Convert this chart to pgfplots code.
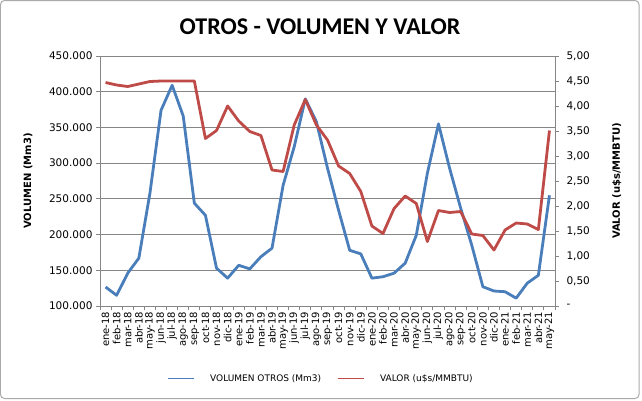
\documentclass[border=0pt]{standalone}
\usepackage{fontspec}
\setmainfont{DejaVu Sans}
\newfontfamily\carlito{Carlito}
\usepackage{pgfplots}
\pgfplotsset{compat=1.18}
\usepackage{pgfplotstable}
\definecolor{volblue}{HTML}{4A7EBB}
\definecolor{valred}{HTML}{BE4B48}
\definecolor{gridgray}{HTML}{868686}
\pgfplotstableread{
i vol val
0 126600 4.47
1 115000 4.42
2 146000 4.39
3 167000 4.44
4 258000 4.49
5 374000 4.50
6 409000 4.50
7 366000 4.50
8 244000 4.50
9 227000 3.35
10 153000 3.51
11 139000 4.00
12 157000 3.70
13 152000 3.49
14 169000 3.41
15 181000 2.72
16 269000 2.69
17 323000 3.62
18 390000 4.13
19 358000 3.62
20 293000 3.32
21 234000 2.80
22 178000 2.65
23 173000 2.29
24 139000 1.60
25 141000 1.45
26 146000 1.95
27 160000 2.20
28 199000 2.05
29 286000 1.29
30 355000 1.91
31 293000 1.87
32 237000 1.89
33 185000 1.44
34 127000 1.41
35 121000 1.12
36 120000 1.52
37 111000 1.66
38 132000 1.64
39 143000 1.53
40 255000 3.51
}\datatable
\begin{document}
\begin{tikzpicture}[x=1bp,y=1bp]
\useasboundingbox (0,0) rectangle (642,-400);
\draw[gridgray!70, line width=1bp, rounded corners=4bp] (0.5,-0.5) rectangle (639,-398.5);
\node[font=\carlito\bfseries\fontsize{24bp}{28bp}\selectfont] at (320,-27) {OTROS - VOLUMEN Y VALOR};
\pgfplotsset{
  every axis/.append style={
    scale only axis, width=455bp, height=250bp,
    at={(100bp,-306bp)}, anchor=south west,
    xmin=-0.5, xmax=40.5,
    axis line style={gridgray, line width=1bp},
    tick style={gridgray, line width=1bp},
    major tick length=4bp, minor tick length=4bp,
    tick align=outside,
    tick label style={font=\fontsize{10.5bp}{12bp}\selectfont},
    label style={font=\bfseries\fontsize{10bp}{12bp}\selectfont},
  }
}
\begin{axis}[
  axis y line*=left, axis x line*=bottom,
  ymin=100000, ymax=450000,
  ytick={100000,150000,...,450000},
  ymajorgrids, grid style={gridgray, line width=1bp},
  scaled y ticks=false,
  yticklabel style={/pgf/number format/.cd, fixed, 1000 sep={.}, assume math mode=true},
  xtick={0,...,40},
  xticklabels={ene-18,feb-18,mar-18,abr-18,may-18,jun-18,jul-18,ago-18,sep-18,oct-18,nov-18,dic-18,ene-19,feb-19,mar-19,abr-19,may-19,jun-19,jul-19,ago-19,sep-19,oct-19,nov-19,dic-19,ene-20,feb-20,mar-20,abr-20,may-20,jun-20,jul-20,ago-20,sep-20,oct-20,nov-20,dic-20,ene-21,feb-21,mar-21,abr-21,may-21},
  xticklabel style={rotate=90, anchor=east, font=\fontsize{10bp}{12bp}\selectfont},
  x tick label style={inner sep=1.5bp},
  major x tick style={draw=none},
  minor xtick={-0.5,0.5,...,40.5},
  ylabel={VOLUMEN (Mm3)},
  ylabel style={at={(axis description cs:-0.158,0.5)}, anchor=center},
]
\addplot[volblue, line width=2.8bp, line join=round] table[x=i,y=vol]{\datatable};
\end{axis}
\begin{axis}[
  axis y line*=right, axis x line=none,
  ymin=0, ymax=5,
  ytick={0,0.5,...,5},
  yticklabels={-,{0,50},{1,00},{1,50},{2,00},{2,50},{3,00},{3,50},{4,00},{4,50},{5,00}},
  yticklabel style={anchor=west, xshift=4bp},
  ylabel={VALOR (u\$s/MMBTU)},
  ylabel style={at={(axis description cs:1.136,0.5)}, anchor=center, rotate=0},
  legend columns=2,
  legend style={at={(axis description cs:0.4857,-0.292)}, anchor=center, draw=none, fill=none,
    font=\fontsize{9bp}{11bp}\selectfont, column sep=14bp},
  legend image code/.code={\draw[#1] (0bp,0.5bp) -- (26bp,0.5bp);},
]
\addlegendimage{draw=volblue, line width=0.8bp}
\addlegendentry{VOLUMEN OTROS (Mm3)}
\addlegendimage{draw=valred, line width=0.8bp}
\addlegendentry{VALOR (u\$s/MMBTU)}
\addplot[draw=valred, line width=2.8bp, line join=round, forget plot] table[x=i,y=val]{\datatable};
\end{axis}
\end{tikzpicture}
\end{document}
